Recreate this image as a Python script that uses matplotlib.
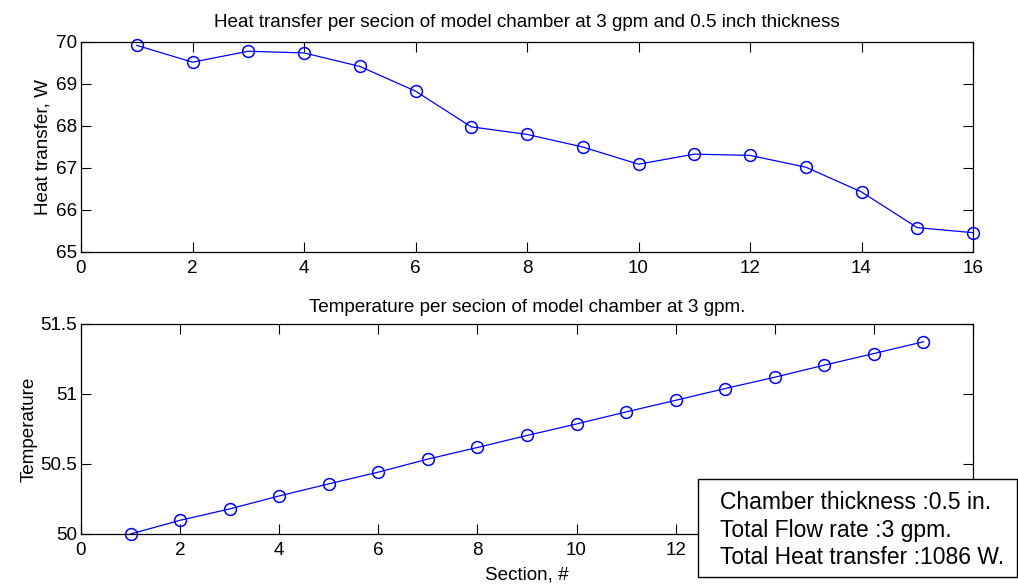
import matplotlib
matplotlib.use('Agg')
import matplotlib.pyplot as plt
from matplotlib.patches import Rectangle
import numpy as np

plt.rcParams['font.family'] = ['Liberation Sans', 'DejaVu Sans']

# heat transfer per section (W), sections 1..16
sec_q = np.arange(1, 17)
heat_q = [69.92, 69.52, 69.78, 69.74, 69.42, 68.83, 67.98, 67.80,
          67.50, 67.09, 67.33, 67.30, 67.02, 66.43, 65.58, 65.46]

# water temperature along the chamber, sections 1..17
sec_t = np.arange(1, 18)
temp = [50.00, 50.098, 50.179, 50.272, 50.358, 50.442, 50.535, 50.618,
        50.704, 50.786, 50.872, 50.955, 51.039, 51.120, 51.206, 51.289, 51.373]

thickness = 0.5
flow = 3
total_q = 1086

fs = 13.6
W, H = 1018, 584
fig = plt.figure(figsize=(W / 100, H / 100), dpi=100)

ax1 = fig.add_axes([81 / W, 1 - 252 / H, 892 / W, 210 / H])
ax2 = fig.add_axes([81 / W, 1 - 534 / H, 892 / W, 210 / H])

for ax in (ax1, ax2):
    ax.tick_params(direction='in', length=7, width=0.8, top=True, right=True,
                   labelsize=fs)
    ax.tick_params(axis='x', pad=6)
    ax.tick_params(axis='y', pad=3)
    for s in ax.spines.values():
        s.set_linewidth(0.9)

ax1.plot(sec_q, heat_q, '-o', color='#0000ff', lw=0.9, ms=8.5,
         mfc='none', mew=1.1, clip_on=False)
ax1.set_xlim(0, 16)
ax1.set_ylim(65, 70)
ax1.set_xticks(range(0, 17, 2))
ax1.set_yticks(range(65, 71))
ax1.set_ylabel('Heat transfer, W', fontsize=fs, labelpad=3)
ax1.set_title('Heat transfer per secion of model chamber at 3 gpm and 0.5 inch thickness',
              fontsize=fs, pad=11)

ax2.plot(sec_t, temp, '-o', color='#0000ff', lw=0.9, ms=8.5,
         mfc='none', mew=1.1, clip_on=False)
ax2.set_xlim(0, 18)
ax2.set_ylim(50, 51.5)
# labels past 12 sit under the summary box
ax2.set_xticks(range(0, 19, 2))
ax2.set_xticklabels([str(v) if v <= 12 else '' for v in range(0, 19, 2)])
ax2.set_yticks([50, 50.5, 51, 51.5])
ax2.set_yticklabels(['50', '50.5', '51', '51.5'])
ax2.set_ylabel('Temperature', fontsize=fs, labelpad=2)
ax2.set_xlabel('Section, #', fontsize=fs, labelpad=5)
ax2.set_title('Temperature per secion of model chamber at 3 gpm.', fontsize=fs, pad=9)

# summary box, bottom right corner of the figure
box = Rectangle((698 / W, 1 - 577 / H), (1017 - 698) / W, (577 - 479) / H,
                transform=fig.transFigure, facecolor='white', edgecolor='black',
                lw=1.0, zorder=5)
fig.patches.append(box)
fig.text(720 / W, 1 - 530 / H,
         'Chamber thickness :%s in.\nTotal Flow rate :%d gpm.\nTotal Heat transfer :%d W.'
         % (thickness, flow, total_q),
         fontsize=16.5, va='center', ha='left', linespacing=1.27, zorder=6)

fig.savefig('out.png', dpi=100)
